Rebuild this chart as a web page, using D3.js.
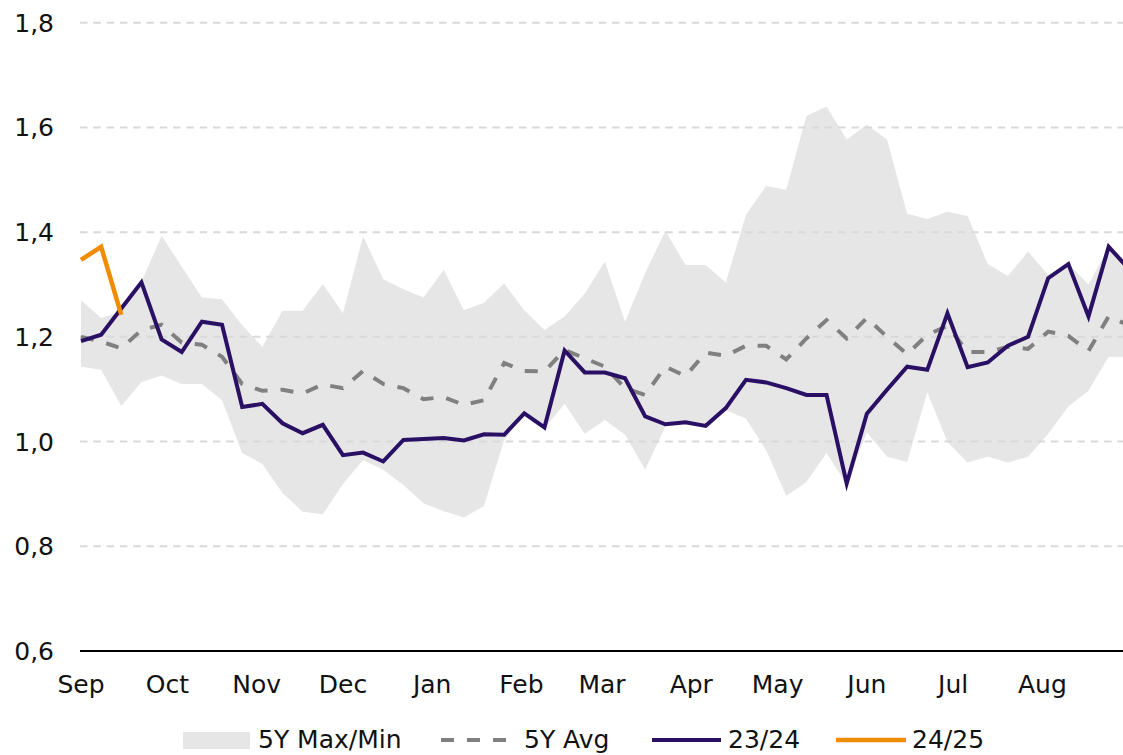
<!DOCTYPE html>
<html lang="en">
<head>
    <meta charset="UTF-8">
    <title>5Y range chart</title>
    <script src="https://d3js.org/d3.v7.min.js"></script>
    <style>
        body { margin: 0; background: #fff; }
        svg { display: block; }
        text { font-family: "DejaVu Sans", sans-serif; fill: #111; }
    </style>
</head>
<body>
<div id="chart"></div>
<script>
    // month tick labels (one per month, starting September)
    const months = ["Sep", "Oct", "Nov", "Dec", "Jan", "Feb", "Mar", "Apr", "May", "Jun", "Jul", "Aug"];
    const yTicks = [0.6, 0.8, 1.0, 1.2, 1.4, 1.6, 1.8];

    // weekly values
    const max5y = [1.270, 1.236, 1.248, 1.305, 1.393, 1.334, 1.275, 1.272, 1.222, 1.181,
                   1.250, 1.250, 1.301, 1.245, 1.392, 1.310, 1.291, 1.275, 1.328, 1.251,
                   1.265, 1.302, 1.251, 1.213, 1.239, 1.283, 1.344, 1.229, 1.322, 1.402,
                   1.337, 1.337, 1.304, 1.433, 1.488, 1.481, 1.622, 1.640, 1.577, 1.605,
                   1.577, 1.435, 1.425, 1.439, 1.431, 1.339, 1.316, 1.363, 1.318, 1.340,
                   1.300, 1.372, 1.335];
    const min5y = [1.143, 1.137, 1.068, 1.114, 1.126, 1.110, 1.110, 1.079, 0.978, 0.957,
                   0.902, 0.866, 0.861, 0.919, 0.965, 0.946, 0.917, 0.882, 0.867, 0.855,
                   0.877, 1.003, 1.052, 1.025, 1.072, 1.015, 1.041, 1.013, 0.946, 1.029,
                   1.033, 1.028, 1.060, 1.044, 0.984, 0.896, 0.923, 0.978, 0.918, 1.018,
                   0.971, 0.961, 1.094, 0.999, 0.960, 0.971, 0.960, 0.971, 1.015, 1.067,
                   1.097, 1.162, 1.162];
    const avg5y = [1.200, 1.191, 1.178, 1.213, 1.223, 1.189, 1.185, 1.162, 1.110, 1.097,
                   1.099, 1.092, 1.109, 1.102, 1.135, 1.110, 1.102, 1.081, 1.085, 1.070,
                   1.079, 1.150, 1.135, 1.134, 1.175, 1.159, 1.143, 1.102, 1.089, 1.143,
                   1.125, 1.170, 1.164, 1.183, 1.183, 1.157, 1.197, 1.232, 1.197, 1.236,
                   1.200, 1.167, 1.204, 1.221, 1.171, 1.171, 1.181, 1.177, 1.210, 1.202,
                   1.173, 1.239, 1.222];
    const s2324 = [1.192, 1.204, 1.254, 1.304, 1.195, 1.171, 1.229, 1.223, 1.066, 1.072,
                   1.035, 1.016, 1.032, 0.974, 0.979, 0.962, 1.003, 1.005, 1.007, 1.002,
                   1.014, 1.013, 1.054, 1.027, 1.174, 1.132, 1.132, 1.121, 1.048, 1.033,
                   1.037, 1.030, 1.064, 1.118, 1.113, 1.102, 1.089, 1.089, 0.920, 1.053,
                   1.099, 1.143, 1.137, 1.245, 1.142, 1.151, 1.183, 1.200, 1.312, 1.339,
                   1.239, 1.372, 1.330];
    const s2425 = [1.347, 1.372, 1.242];

    const W = 1123, H = 755;
    const svg = d3.select("#chart").append("svg")
        .attr("width", W).attr("height", H);

    // date axis: weeks from 1 Sep
    const start = new Date(2022, 8, 1);
    const weekDate = i => d3.timeDay.offset(start, 7 * i);
    const x = d3.scaleTime()
        .domain([start, weekDate(52)])
        .range([81, 81 + 52 * 20.15]);
    const y = d3.scaleLinear().domain([0.6, 1.8]).range([651, 22.7]);

    // 5Y band
    const band = d3.area()
        .x((d, i) => x(weekDate(i)))
        .y0((d, i) => y(min5y[i]))
        .y1(d => y(d));
    svg.append("path")
        .attr("d", band(max5y))
        .attr("fill", "#e6e6e6");

    // gridlines
    svg.append("g").selectAll("line")
        .data(yTicks.filter(v => v > 0.6))
        .join("line")
        .attr("x1", 80).attr("x2", W)
        .attr("y1", d => y(d)).attr("y2", d => y(d))
        .attr("stroke", "#d9d9d9")
        .attr("stroke-width", 2)
        .attr("stroke-dasharray", "7.5,5.8");

    // y labels
    svg.append("g").selectAll("text")
        .data(yTicks)
        .join("text")
        .attr("x", 54)
        .attr("y", d => y(d))
        .attr("dy", "0.36em")
        .attr("text-anchor", "end")
        .attr("font-size", 25)
        .text(d => d3.format(".1f")(d).replace(".", ","));

    // x axis line
    svg.append("line")
        .attr("x1", 80).attr("x2", W)
        .attr("y1", y(0.6)).attr("y2", y(0.6))
        .attr("stroke", "#000").attr("stroke-width", 2);

    // month labels
    svg.append("g").selectAll("text")
        .data(months)
        .join("text")
        .attr("x", (d, i) => x(d3.timeMonth.offset(start, i)))
        .attr("y", 693)
        .attr("text-anchor", "middle")
        .attr("font-size", 25)
        .text(d => d);

    const line = d3.line()
        .x((d, i) => x(weekDate(i)))
        .y(d => y(d));

    svg.append("path")
        .attr("d", line(avg5y))
        .attr("fill", "none")
        .attr("stroke", "#808080")
        .attr("stroke-width", 4)
        .attr("stroke-dasharray", "13,13");

    svg.append("path")
        .attr("d", line(s2324))
        .attr("fill", "none")
        .attr("stroke", "#2a1064")
        .attr("stroke-width", 4)
        .attr("stroke-linejoin", "miter");

    svg.append("path")
        .attr("d", line(s2425))
        .attr("fill", "none")
        .attr("stroke", "#f08c00")
        .attr("stroke-width", 4.5)
        .attr("stroke-linejoin", "miter");

    // legend
    const ly = 740;
    const lg = svg.append("g").attr("font-size", 25);
    lg.append("rect")
        .attr("x", 183).attr("y", ly - 8).attr("width", 67).attr("height", 17)
        .attr("fill", "#e6e6e6");
    lg.append("text").attr("x", 258).attr("y", ly + 8).text("5Y Max/Min");

    lg.append("line")
        .attr("x1", 441).attr("x2", 517).attr("y1", ly).attr("y2", ly)
        .attr("stroke", "#808080").attr("stroke-width", 4)
        .attr("stroke-dasharray", "13,13");
    lg.append("text").attr("x", 524).attr("y", ly + 8).text("5Y Avg");

    lg.append("line")
        .attr("x1", 652).attr("x2", 721).attr("y1", ly).attr("y2", ly)
        .attr("stroke", "#2a1064").attr("stroke-width", 4);
    lg.append("text").attr("x", 728).attr("y", ly + 8).text("23/24");

    lg.append("line")
        .attr("x1", 836).attr("x2", 906).attr("y1", ly).attr("y2", ly)
        .attr("stroke", "#f08c00").attr("stroke-width", 4.5);
    lg.append("text").attr("x", 912).attr("y", ly + 8).text("24/25");
</script>
</body>
</html>
